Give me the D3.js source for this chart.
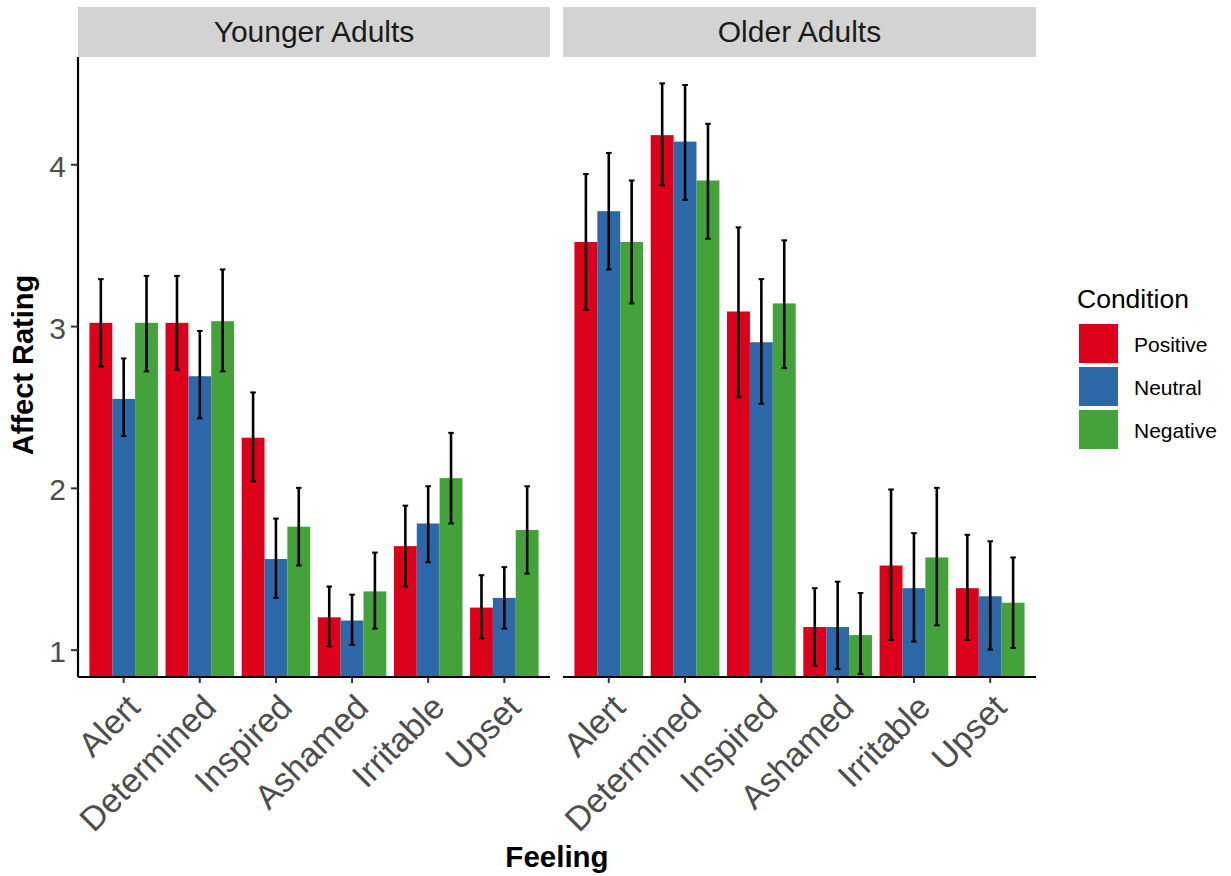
<!DOCTYPE html>
<html>
<head>
<meta charset="utf-8">
<script src="https://cdn.jsdelivr.net/npm/d3@7"></script>
<style>
  html, body { margin: 0; padding: 0; background: #ffffff; }
  svg { display: block; font-family: "Liberation Sans", Arial, Helvetica, sans-serif; }
</style>
</head>
<body>
<svg id="chart" width="1231" height="876"></svg>
<script>
// ---------------- data ----------------
const categories = ["Alert", "Determined", "Inspired", "Ashamed", "Irritable", "Upset"];
const conditions = ["Positive", "Neutral", "Negative"];
const groups = ["Younger Adults", "Older Adults"];
const yTicks = [1, 2, 3, 4];

// Younger adults: means and error bar bounds
const youngPositive = [3.02, 3.02, 2.31, 1.20, 1.64, 1.26];
const youngNeutral  = [2.55, 2.69, 1.56, 1.18, 1.78, 1.32];
const youngNegative = [3.02, 3.03, 1.76, 1.36, 2.06, 1.74];
const youngPositiveLo = [2.75, 2.73, 2.04, 1.02, 1.39, 1.07];
const youngPositiveHi = [3.29, 3.31, 2.59, 1.39, 1.89, 1.46];
const youngNeutralLo  = [2.32, 2.43, 1.32, 1.03, 1.54, 1.13];
const youngNeutralHi  = [2.80, 2.97, 1.81, 1.34, 2.01, 1.51];
const youngNegativeLo = [2.72, 2.72, 1.52, 1.13, 1.78, 1.47];
const youngNegativeHi = [3.31, 3.35, 2.00, 1.60, 2.34, 2.01];

// Older adults: means and error bar bounds
const oldPositive = [3.52, 4.18, 3.09, 1.14, 1.52, 1.38];
const oldNeutral  = [3.71, 4.14, 2.90, 1.14, 1.38, 1.33];
const oldNegative = [3.52, 3.90, 3.14, 1.09, 1.57, 1.29];
const oldPositiveLo = [3.10, 3.87, 2.56, 0.90, 1.06, 1.06];
const oldPositiveHi = [3.94, 4.50, 3.61, 1.38, 1.99, 1.71];
const oldNeutralLo  = [3.35, 3.78, 2.52, 0.88, 1.05, 1.00];
const oldNeutralHi  = [4.07, 4.49, 3.29, 1.42, 1.72, 1.67];
const oldNegativeLo = [3.14, 3.54, 2.74, 0.85, 1.15, 1.01];
const oldNegativeHi = [3.90, 4.25, 3.53, 1.35, 2.00, 1.57];

const series = {
  "Younger Adults": {
    Positive: [youngPositive, youngPositiveLo, youngPositiveHi],
    Neutral:  [youngNeutral,  youngNeutralLo,  youngNeutralHi],
    Negative: [youngNegative, youngNegativeLo, youngNegativeHi]
  },
  "Older Adults": {
    Positive: [oldPositive, oldPositiveLo, oldPositiveHi],
    Neutral:  [oldNeutral,  oldNeutralLo,  oldNeutralHi],
    Negative: [oldNegative, oldNegativeLo, oldNegativeHi]
  }
};

// ---------------- layout ----------------
const svg = d3.select("#chart");
svg.append("rect").attr("width", 1231).attr("height", 876).attr("fill", "#ffffff");

const panelTop = 57, panelBottom = 677;
const stripTop = 7;
const panels = [
  { name: "Younger Adults", x0: 78, x1: 550 },
  { name: "Older Adults", x0: 563, x1: 1036 }
];

const color = d3.scaleOrdinal().domain(conditions).range(["#DC001B", "#2D68A8", "#43A33A"]);
const y = d3.scaleLinear().domain([0.831, 4.663]).range([panelBottom, panelTop]);

const defs = svg.append("defs");

panels.forEach((p, pi) => {
  const x = d3.scaleBand().domain(categories).range([p.x0, p.x1])
    .paddingInner(0.1).paddingOuter(0.15);
  const xs = d3.scaleBand().domain(conditions).range([0, x.bandwidth()]).padding(0);

  // strip
  svg.append("rect")
    .attr("x", p.x0).attr("y", stripTop)
    .attr("width", p.x1 - p.x0).attr("height", panelTop - stripTop)
    .attr("fill", "#d3d3d3");
  svg.append("text")
    .attr("x", (p.x0 + p.x1) / 2).attr("y", (stripTop + panelTop) / 2 - 0.5)
    .attr("dy", "0.36em")
    .attr("text-anchor", "middle")
    .attr("font-size", 30)
    .attr("fill", "#1a1a1a")
    .text(p.name);

  // clip
  defs.append("clipPath").attr("id", "clip" + pi)
    .append("rect").attr("x", p.x0).attr("y", panelTop)
    .attr("width", p.x1 - p.x0).attr("height", panelBottom - panelTop);

  const g = svg.append("g").attr("clip-path", `url(#clip${pi})`);
  const data = [];
  conditions.forEach(c => {
    const [m, lo, hi] = series[p.name][c];
    categories.forEach((cat, i) => data.push({ cat, cond: c, m: m[i], lo: lo[i], hi: hi[i] }));
  });

  g.selectAll("rect.bar").data(data).enter().append("rect")
    .attr("class", "bar")
    .attr("x", d => x(d.cat) + xs(d.cond))
    .attr("width", xs.bandwidth())
    .attr("y", d => y(d.m))
    .attr("height", d => y(y.domain()[0]) - y(d.m))
    .attr("fill", d => color(d.cond));

  const capW = 2.8;
  const eb = g.selectAll("g.eb").data(data).enter().append("g").attr("class", "eb")
    .attr("stroke", "#000").attr("stroke-width", 2.6).attr("fill", "none");
  eb.append("line")
    .attr("x1", d => x(d.cat) + xs(d.cond) + xs.bandwidth() / 2)
    .attr("x2", d => x(d.cat) + xs(d.cond) + xs.bandwidth() / 2)
    .attr("y1", d => y(d.lo)).attr("y2", d => y(d.hi));
  eb.append("line")
    .attr("x1", d => x(d.cat) + xs(d.cond) + xs.bandwidth() / 2 - capW)
    .attr("x2", d => x(d.cat) + xs(d.cond) + xs.bandwidth() / 2 + capW)
    .attr("y1", d => y(d.hi)).attr("y2", d => y(d.hi)).attr("stroke-width", 2);
  eb.append("line")
    .attr("x1", d => x(d.cat) + xs(d.cond) + xs.bandwidth() / 2 - capW)
    .attr("x2", d => x(d.cat) + xs(d.cond) + xs.bandwidth() / 2 + capW)
    .attr("y1", d => y(d.lo)).attr("y2", d => y(d.lo)).attr("stroke-width", 2);

  // x axis
  const xAxis = d3.axisBottom(x).tickSize(6).tickSizeOuter(0).tickPadding(4);
  const xg = svg.append("g").attr("transform", `translate(0,${panelBottom})`).call(xAxis);
  xg.select(".domain").attr("stroke", "#000").attr("stroke-width", 2.2)
    .attr("d", `M${p.x0},0H${p.x1}`);
  xg.selectAll(".tick line").attr("stroke", "#333").attr("stroke-width", 2);
  xg.selectAll(".tick text")
    .attr("font-size", 34)
    .attr("fill", "#4d4d4d")
    .attr("text-anchor", "end")
    .attr("x", 0).attr("y", 0).attr("dy", "0.72em")
    .attr("transform", "translate(1,15) rotate(-45)");

  // y axis on first panel
  if (pi === 0) {
    const yAxis = d3.axisLeft(y).tickValues(yTicks).tickSize(7).tickSizeOuter(0).tickPadding(5)
      .tickFormat(d3.format("d"));
    const yg = svg.append("g").attr("transform", `translate(${p.x0},0)`).call(yAxis);
    yg.select(".domain").attr("stroke", "#000").attr("stroke-width", 2.2)
      .attr("d", `M0,${panelTop}V${panelBottom}`);
    yg.selectAll(".tick line").attr("stroke", "#333").attr("stroke-width", 2);
    yg.selectAll(".tick text").attr("font-size", 30).attr("fill", "#4d4d4d").attr("dy", "0.4em");
  }
});

// axis titles
svg.append("text")
  .attr("x", (78 + 1036) / 2).attr("y", 856).attr("dy", "0.36em")
  .attr("text-anchor", "middle").attr("font-size", 29.5).attr("font-weight", "bold")
  .attr("fill", "#000").text("Feeling");
svg.append("text")
  .attr("transform", `translate(22.5,${(panelTop + panelBottom) / 2 - 2}) rotate(-90)`)
  .attr("dy", "0.36em")
  .attr("text-anchor", "middle").attr("font-size", 29).attr("font-weight", "bold")
  .attr("fill", "#000").text("Affect Rating");

// legend
const lg = svg.append("g");
lg.append("text").attr("x", 1077).attr("y", 298).attr("dy", "0.36em")
  .attr("font-size", 26.5).attr("fill", "#000").text("Condition");
const keyH = 43;
conditions.forEach((c, i) => {
  lg.append("rect").attr("x", 1079).attr("y", 324 + i * keyH)
    .attr("width", 39).attr("height", 39).attr("fill", color(c));
  lg.append("text").attr("x", 1134).attr("y", 324 + i * keyH + 20.5).attr("dy", "0.36em")
    .attr("font-size", 21).attr("fill", "#000").text(c);
});
</script>
</body>
</html>
